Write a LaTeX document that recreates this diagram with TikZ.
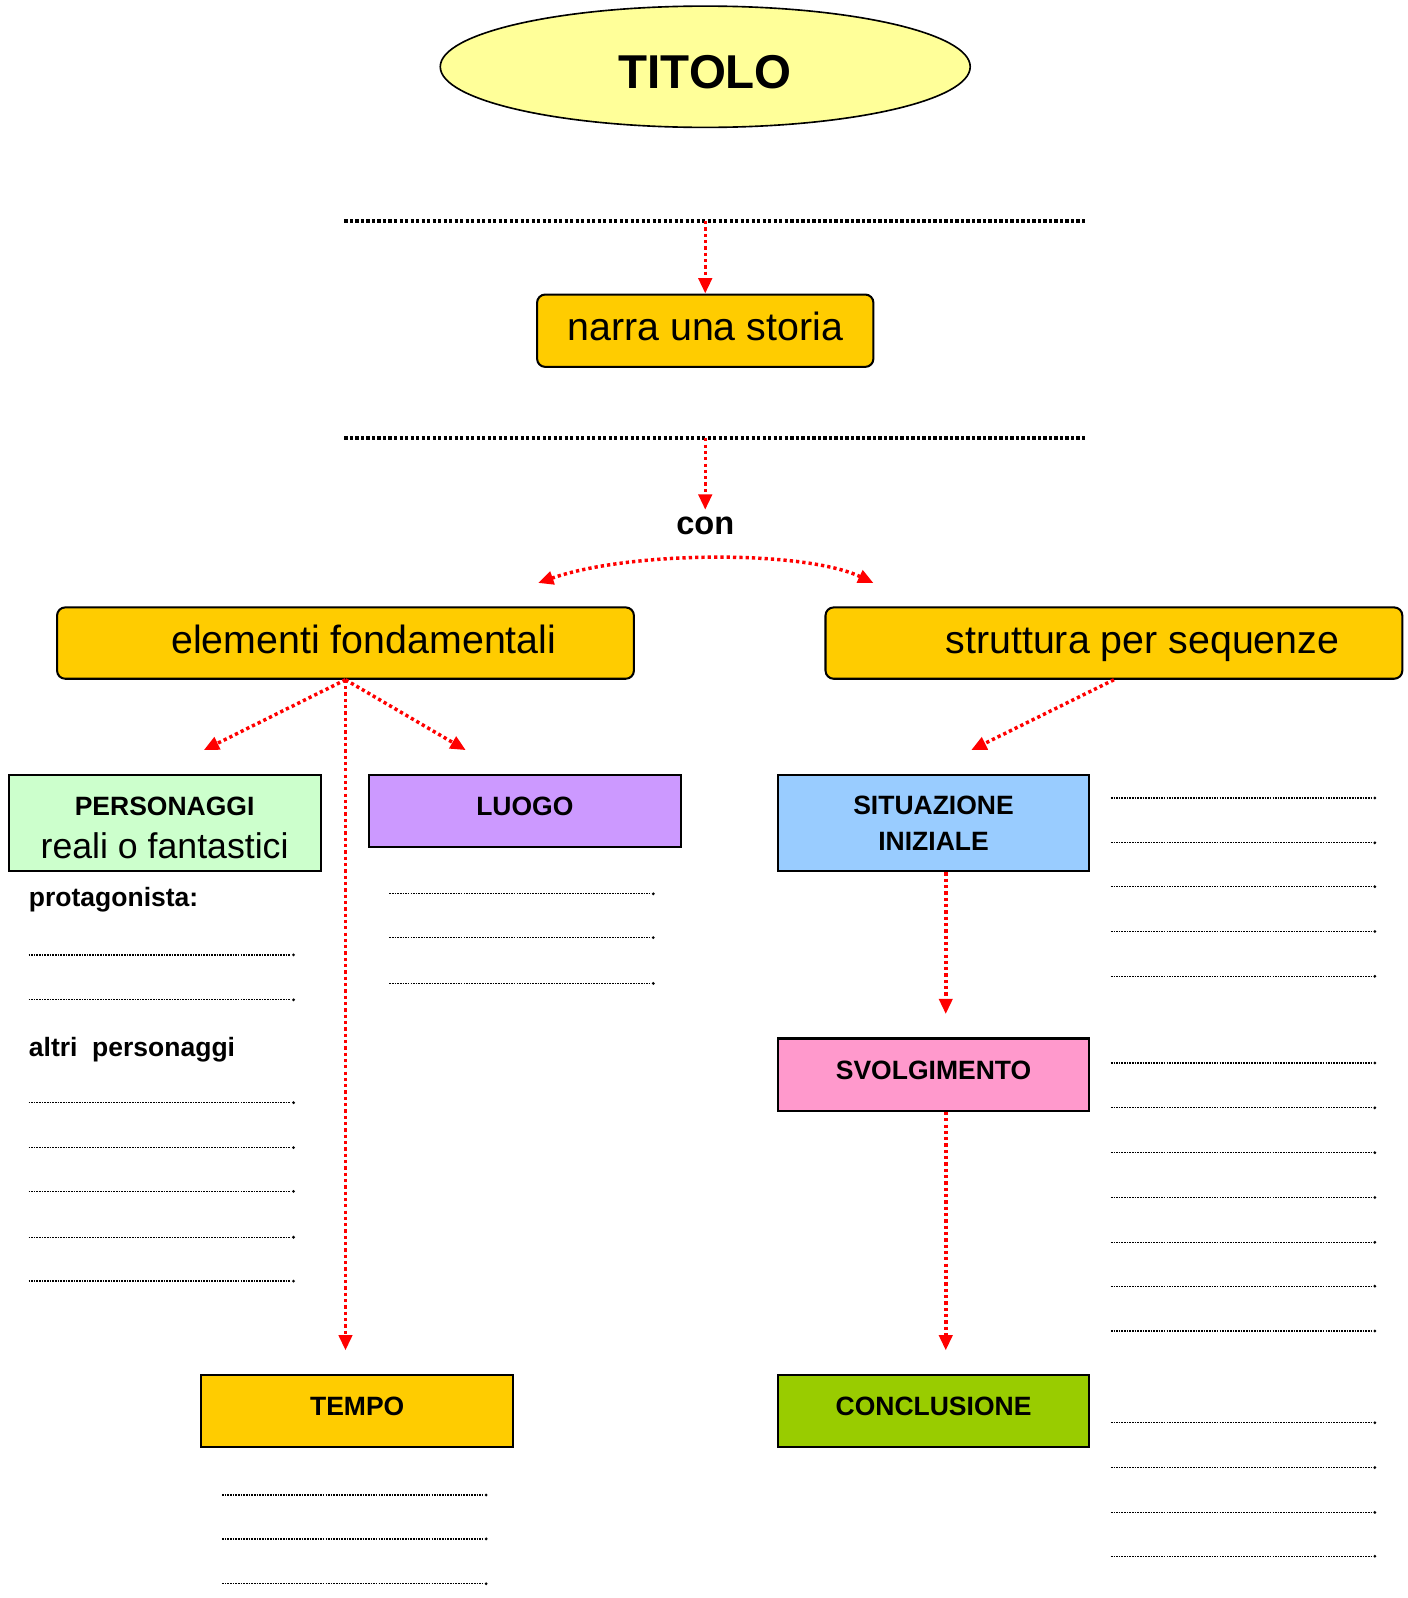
\documentclass[tikz,border=0pt]{standalone}
\usepackage{fontspec}
\setmainfont{Liberation Sans}
\usetikzlibrary{arrows.meta,shapes.geometric}
\definecolor{ellfill}{HTML}{FFFF99}
\definecolor{gold}{HTML}{FFCC00}
\definecolor{persfill}{HTML}{CCFFCC}
\definecolor{luogofill}{HTML}{CC99FF}
\definecolor{sitfill}{HTML}{99CCFF}
\definecolor{svolfill}{HTML}{FF99CC}
\definecolor{concfill}{HTML}{99CC00}
\newcommand\mydotline[3]{\draw[fillline] (#1,#3) -- (#2,#3); \fill (#2+3,#3) circle (0.75pt);}
\begin{document}
\begin{tikzpicture}[x=0.5pt,y=-0.5pt,
  bigbox/.style={draw=black,line width=1pt,rounded corners=4pt,fill=gold,minimum width=283pt,minimum height=35pt,inner sep=0pt,text height=14pt,text depth=4pt,font=\fontsize{19.3}{23}\selectfont},
  catbox/.style={draw=black,line width=1pt,minimum width=153pt,minimum height=35.5pt,inner sep=0pt,align=center,font=\fontsize{13}{17.5}\selectfont\bfseries},
  onel/.style={text height=9.3pt,text depth=4.5pt},
  redline/.style={draw=red,line width=1.7pt,dash pattern=on 1.6pt off 1.5pt},
  redarrow/.style={redline,-{Triangle[width=6.5pt,length=7.5pt]}},
  sepline/.style={line width=2pt,dash pattern=on 1.6pt off 1.1pt},
  fillline/.style={line width=0.6pt,dash pattern=on 0.8pt off 0.5pt},
  lbl/.style={anchor=mid west,inner sep=0pt,font=\fontsize{13}{16}\selectfont\bfseries}
]
\useasboundingbox (0,0) rectangle (1381,1568);

% title
\node[ellipse,draw=black,line width=0.8pt,fill=ellfill,minimum width=260pt,minimum height=59.5pt,inner sep=0pt,text height=21pt,text depth=0pt,font=\fontsize{23.3}{28}\selectfont\bfseries] (titolo) at (692,65.5) {TITOLO};

% separator lines
\coordinate (s1l) at (338,217); \coordinate (s1r) at (1066,217); \coordinate (s1) at (692,217);
\coordinate (s2l) at (338,430); \coordinate (s2r) at (1066,430); \coordinate (s2) at (692,430);
\draw[sepline] (s1l) -- (s1r);
\draw[sepline] (s2l) -- (s2r);

% main boxes
\node[bigbox,minimum width=165pt,minimum height=35.5pt] (narra) at (692,324.5) {narra una storia};
\node[font=\fontsize{16}{19}\selectfont\bfseries] (con) at (692,516) {con};
\node[bigbox] (elem) at (339,631) {\hspace*{18pt}elementi fondamentali};
\node[bigbox] (strut) at (1093,631) {\hspace*{28pt}struttura per sequenze};

% category boxes
\node[catbox,fill=persfill,minimum height=47.5pt] (pers) at (161.5,807.5) {\rule{0pt}{13.8pt}PERSONAGGI\\[3.5pt]{\fontseries{m}\fontsize{17.5}{20}\selectfont reali o fantastici}};
\node[catbox,onel,fill=luogofill] (luogo) at (515,795.5) {LUOGO};
\node[catbox,fill=sitfill,minimum height=47.5pt] (sit) at (916,807.5) {SITUAZIONE\\INIZIALE};
\node[catbox,onel,fill=svolfill] (svol) at (916,1054.5) {SVOLGIMENTO};
\node[catbox,onel,fill=concfill] (conc) at (916,1384.5) {CONCLUSIONE};
\node[catbox,onel,fill=gold] (tempo) at (350.5,1384.5) {TEMPO};

% arrow end points
\coordinate (cl) at (528,572);
\coordinate (cr) at (857,572);
\coordinate (tpers) at (200,736);
\coordinate (tluogo) at (457,736);
\coordinate (ttempo) at (339,1325);
\coordinate (tsit) at (953,736);
\coordinate (tsvol) at (928,995);
\coordinate (tconc) at (928,1325);

% arrows
\draw[redarrow] (s1) -- (narra.north);
\draw[redarrow] (s2) -- (con.north);
\draw[redline,{Triangle[width=6.5pt,length=7.5pt]}-{Triangle[width=6.5pt,length=7.5pt]}] (cl) .. controls (620,540) and (790,540) .. (cr);
\draw[redarrow] (elem.south) -- (tpers);
\draw[redarrow] (elem.south) -- (tluogo);
\draw[redarrow] (elem.south) -- (ttempo);
\draw[redarrow] (strut.south) -- (tsit);
\draw[redarrow] ([xshift=6pt]sit.south) -- (tsvol);
\draw[redarrow] ([xshift=6pt]svol.south) -- (tconc);

% labels
\node[lbl] (prot) at (28,884) {protagonista:};
\node[lbl] (altri) at (28,1031) {altri\ \ personaggi};

% fill-in lines
\foreach \y in {937,981,1082,1126,1169,1214,1257} {\mydotline{28}{285}{\y}}
\foreach \y in {877,920,965} {\mydotline{382}{638}{\y}}
\foreach \y in {1467,1510,1554} {\mydotline{218}{474}{\y}}
\foreach \y in {783,827,870,914,958,1043,1087,1131,1175,1219,1262,1306,1396,1440,1484,1527} {\mydotline{1090}{1346}{\y}}
\end{tikzpicture}
\end{document}
